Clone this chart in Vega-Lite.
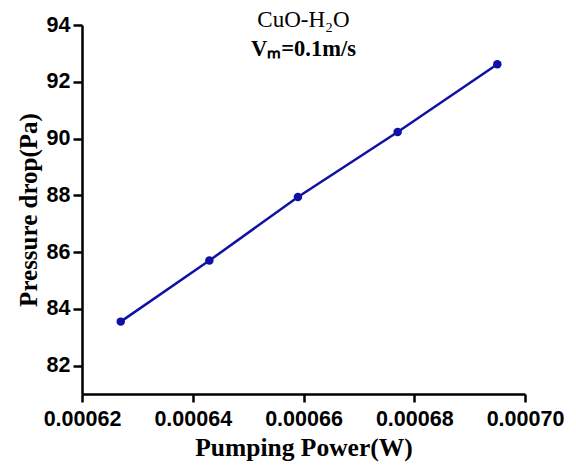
{
  "$schema": "https://vega.github.io/schema/vega-lite/v6.json",
  "autosize": {"type": "none"},
  "width": 443,
  "height": 369,
  "padding": {"left": 82, "top": 25, "right": 51, "bottom": 72},
  "background": "white",
  "config": {"view": {"stroke": null}},
  "title": {
    "text": "CuO-H₂O",
    "subtitle": "Vₘ=0.1m/s",
    "anchor": "middle",
    "orient": "top",
    "offset": -46,
    "font": "Liberation Serif",
    "fontSize": 23,
    "fontWeight": "normal",
    "color": "black",
    "subtitleFont": "Liberation Serif",
    "subtitleFontSize": 22.5,
    "subtitleFontWeight": "bold",
    "subtitleColor": "black",
    "subtitlePadding": 6
  },
  "data": {
    "values": [
      {"power": 0.000627, "drop": 83.55},
      {"power": 0.000643, "drop": 85.70},
      {"power": 0.000659, "drop": 87.94},
      {"power": 0.000677, "drop": 90.23},
      {"power": 0.000695, "drop": 92.62}
    ]
  },
  "encoding": {
    "x": {
      "field": "power",
      "type": "quantitative",
      "scale": {"domain": [0.00062, 0.0007], "nice": false, "zero": false},
      "axis": {
        "title": "Pumping Power(W)",
        "values": [0.00062, 0.00064, 0.00066, 0.00068, 0.0007],
        "format": ".5f",
        "grid": false,
        "domainColor": "black",
        "domainWidth": 2.5,
        "tickColor": "black",
        "tickWidth": 2.5,
        "tickSize": 8,
        "labelFont": "Liberation Sans",
        "labelFontWeight": "bold",
        "labelFontSize": 21.5,
        "labelColor": "black",
        "labelPadding": 6,
        "labelFlush": false,
        "titleFont": "Liberation Serif",
        "titleFontWeight": "bold",
        "titleFontSize": 25.5,
        "titleColor": "black",
        "titlePadding": 6
      }
    },
    "y": {
      "field": "drop",
      "type": "quantitative",
      "scale": {"domain": [81, 94], "nice": false, "zero": false},
      "axis": {
        "title": "Pressure drop(Pa)",
        "values": [82, 84, 86, 88, 90, 92, 94],
        "grid": false,
        "domainColor": "black",
        "domainWidth": 2.5,
        "tickColor": "black",
        "tickWidth": 2.5,
        "tickSize": 9,
        "labelFont": "Liberation Sans",
        "labelFontWeight": "bold",
        "labelFontSize": 21.5,
        "labelColor": "black",
        "labelPadding": 3,
        "labelFlush": false,
        "titleFont": "Liberation Serif",
        "titleFontWeight": "bold",
        "titleFontSize": 25,
        "titleColor": "black",
        "titlePadding": 5
      }
    }
  },
  "layer": [
    {"mark": {"type": "line", "color": "#1010a6", "strokeWidth": 2.5}},
    {"mark": {"type": "point", "filled": true, "opacity": 1, "color": "#1010a6", "size": 72}}
  ]
}
